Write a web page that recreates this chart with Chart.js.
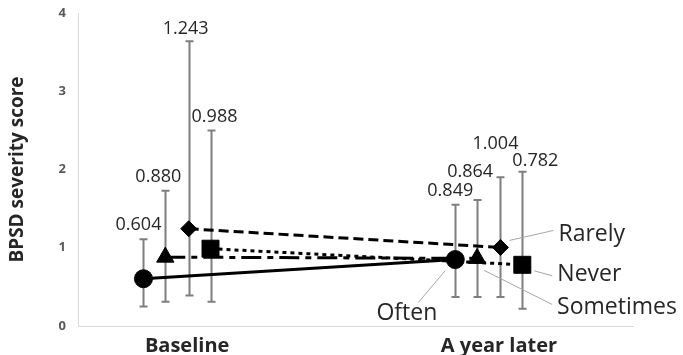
<!DOCTYPE html>
<html>
<head>
<meta charset="utf-8">
<script src="https://cdn.jsdelivr.net/npm/chart.js@4.4.1/dist/chart.umd.min.js"></script>
<style>
  html, body { margin: 0; background: #fff; }
  #wrap { width: 683px; height: 355px; }
</style>
</head>
<body>
<div id="wrap"><canvas id="chart"></canvas></div>
<script>
// data
const categories = ['Baseline', 'A year later'];
const seriesNames = ['Often', 'Sometimes', 'Rarely', 'Never'];
const oftenMean = [0.604, 0.849];
const sometimesMean = [0.880, 0.864];
const rarelyMean = [1.243, 1.004];
const neverMean = [0.988, 0.782];
const oftenLow = [0.25, 0.37];
const oftenHigh = [1.11, 1.55];
const sometimesLow = [0.31, 0.37];
const sometimesHigh = [1.73, 1.61];
const rarelyLow = [0.39, 0.37];
const rarelyHigh = [3.64, 1.90];
const neverLow = [0.31, 0.22];
const neverHigh = [2.50, 1.97];
const yTicks = [0, 1, 2, 3, 4];

// layout: categories sit at 1 and 2, series are dodged around them
const categoryX = [1, 2];
const dodge = [-0.14, -0.07, 0.005, 0.075];
const labelNudge = [
  [[-5, 0], [-5, 0]],
  [[-7, 0], [-7, -14]],
  [[-3, 2], [-5, -19]],
  [[4, 0], [13, 3]]
];
const callouts = [
  { series: 2, text: [58, -13], align: 'left', from: [9, -7], to: [53, -17] },
  { series: 3, text: [35, 10], align: 'left', from: [12, 6], to: [30, 11] },
  { series: 1, text: [80, 49], align: 'left', from: [7, 12], to: [75, 46] },
  { series: 0, text: [-18, 54], align: 'right', from: [-10, 11], to: [-37, 43] }
];

const means = [oftenMean, sometimesMean, rarelyMean, neverMean];
const lows = [oftenLow, sometimesLow, rarelyLow, neverLow];
const highs = [oftenHigh, sometimesHigh, rarelyHigh, neverHigh];
const styles = [
  { pointStyle: 'circle', radius: 9, dash: [] },
  { pointStyle: 'triangle', radius: 10, dash: [20, 6, 6, 6] },
  { pointStyle: 'rectRot', radius: 8, dash: [10, 5] },
  { pointStyle: 'rect', radius: 12, dash: [4, 4] }
];

const datasets = seriesNames.map((name, i) => ({
  label: name,
  data: means[i].map((v, j) => ({ x: categoryX[j] + dodge[i], y: v })),
  errLow: lows[i],
  errHigh: highs[i],
  borderColor: '#000',
  backgroundColor: '#000',
  borderWidth: 3,
  borderDash: styles[i].dash,
  pointStyle: styles[i].pointStyle,
  pointRadius: styles[i].radius,
  pointBorderWidth: 1,
  tension: 0
}));

const errorBars = {
  id: 'errorBars',
  beforeDatasetsDraw(chart) {
    const { ctx, scales: { x, y } } = chart;
    ctx.save();
    ctx.strokeStyle = '#7f7f7f';
    ctx.lineWidth = 2;
    chart.data.datasets.forEach(ds => {
      ds.data.forEach((p, j) => {
        const px = Math.round(x.getPixelForValue(p.x)) + 0.5;
        const top = y.getPixelForValue(ds.errHigh[j]);
        const bot = y.getPixelForValue(ds.errLow[j]);
        ctx.beginPath();
        ctx.moveTo(px, top); ctx.lineTo(px, bot);
        ctx.moveTo(px - 4, top); ctx.lineTo(px + 4, top);
        ctx.moveTo(px - 4, bot); ctx.lineTo(px + 4, bot);
        ctx.stroke();
      });
    });
    ctx.restore();
  },
  afterDatasetsDraw(chart) {
    const { ctx, scales: { x, y } } = chart;
    ctx.save();
    ctx.fillStyle = '#262626';
    ctx.font = '18px "Open Sans"';
    ctx.textAlign = 'center';
    ctx.textBaseline = 'middle';
    chart.data.datasets.forEach((ds, i) => {
      ds.data.forEach((p, j) => {
        const px = x.getPixelForValue(p.x) + labelNudge[i][j][0];
        const py = y.getPixelForValue(ds.errHigh[j]) - 14 + labelNudge[i][j][1];
        ctx.fillText(p.y.toFixed(3), px, py);
      });
    });

    // series names with leader lines, next to the "A year later" points
    ctx.font = '23px "Open Sans"';
    callouts.forEach(c => {
      const p = chart.data.datasets[c.series].data[1];
      const px = x.getPixelForValue(p.x);
      const py = y.getPixelForValue(p.y);
      ctx.strokeStyle = '#a6a6a6';
      ctx.lineWidth = 1;
      ctx.beginPath();
      ctx.moveTo(px + c.from[0], py + c.from[1]);
      ctx.lineTo(px + c.to[0], py + c.to[1]);
      ctx.stroke();
      ctx.textAlign = c.align;
      ctx.fillText(seriesNames[c.series], px + c.text[0], py + c.text[1]);
    });
    ctx.restore();
  }
};

new Chart(document.getElementById('chart'), {
  type: 'line',
  data: { datasets },
  plugins: [errorBars],
  options: {
    responsive: true,
    maintainAspectRatio: false,
    animation: false,
    layout: { padding: { top: 8, right: 50, left: 0, bottom: 0 } },
    plugins: { legend: { display: false }, tooltip: { enabled: false } },
    scales: {
      x: {
        type: 'linear',
        min: 0.65,
        max: 2.43,
        grid: { display: false },
        border: { color: '#d9d9d9', width: 1 },
        afterBuildTicks: s => { s.ticks = categoryX.map(v => ({ value: v })); },
        afterFit: s => { s.height = 29; },
        ticks: {
          padding: 0,
          color: '#262626',
          font: { family: 'Open Sans', size: 20, weight: 'bold' },
          callback: v => categories[categoryX.indexOf(v)]
        }
      },
      y: {
        min: 0,
        max: 4,
        grid: { display: false },
        border: { color: '#d9d9d9', width: 1 },
        afterBuildTicks: s => { s.ticks = yTicks.map(v => ({ value: v })); },
        afterFit: s => { s.width = 78; },
        ticks: {
          padding: 4,
          color: '#595959',
          font: { family: 'Open Sans', size: 13, weight: 'bold' }
        },
        title: {
          display: true,
          text: 'BPSD severity score',
          color: '#262626',
          padding: { top: 6, bottom: 4 },
          font: { family: 'Open Sans', size: 19, weight: 'bold' }
        }
      }
    }
  }
});
</script>
</body>
</html>
